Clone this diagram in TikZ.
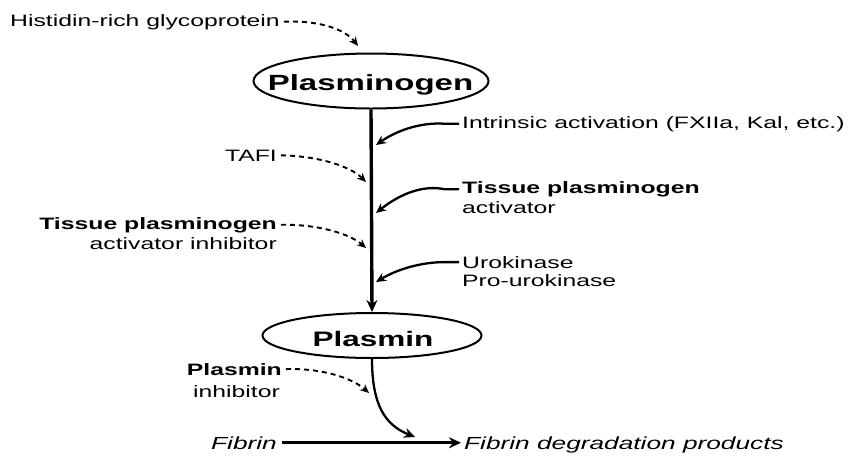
\documentclass[tikz,border=0pt]{standalone}
\usepackage{fontspec}
\setmainfont{Liberation Sans}[FakeStretch=1.5]
\usetikzlibrary{arrows.meta,shapes.geometric}
\begin{document}
\begin{tikzpicture}[x=1pt,y=-1pt,
  lbl/.style={inner sep=0pt, font=\fontsize{16.5}{20}\selectfont},
  blbl/.style={inner sep=0pt, font=\fontsize{16.5}{20}\selectfont\bfseries},
  ilbl/.style={inner sep=0pt, font=\fontsize{17.5}{20}\selectfont\itshape},
  oval/.style={ellipse, draw, line width=2pt, inner sep=0pt},
  big/.style={inner sep=0pt, anchor=base, font=\fontsize{22}{22}\selectfont\bfseries},
  mainarr/.style={line width=3.4pt, -{Stealth[length=12pt,width=11pt]}},
  solidarr/.style={line width=2.3pt, -{Stealth[length=10pt,width=9pt]}},
  dasharr/.style={line width=1.9pt, dash pattern=on 5pt off 4pt, -{Stealth[length=9pt,width=8pt]}},
]
\fill[white] (0,0) rectangle (851,456);
\path[use as bounding box] (0,0) rectangle (851,456);

% ovals
\node[oval, minimum width=235pt, minimum height=55pt] (plg) at (371,81) {};
\node[big] (plgt) at (370.5,90) {Plasminogen};
\node[oval, minimum width=219pt, minimum height=45pt] (pl) at (372,335.5) {};
\node[big, font=\fontsize{21}{21}\selectfont\bfseries] (plt) at (373,346) {Plasmin};

% labels
\node[lbl, anchor=base west] (hrg) at (10,26) {Histidin-rich glycoprotein};
\node[lbl, anchor=base west] (intr) at (462,128) {Intrinsic activation (FXIIa, Kal, etc.)};
\node[blbl, anchor=base west] (tpa1) at (462,193.5) {Tissue plasminogen};
\node[lbl, anchor=base west] (tpa2) at (462,213) {activator};
\node[lbl, anchor=base west] (uk1) at (462,268) {Urokinase};
\node[lbl, anchor=base west] (uk2) at (462,286) {Pro-urokinase};
\node[lbl, anchor=base east] (tafi) at (277,161) {TAFI};
\node[blbl, anchor=base east] (pai1) at (277,229) {Tissue plasminogen};
\node[lbl, anchor=base east] (pai2) at (277,249) {activator inhibitor};
\node[blbl, anchor=base east] (pi1) at (282,375) {Plasmin};
\node[lbl, anchor=base east] (pi2) at (280,397) {inhibitor};
\node[ilbl, anchor=base east] (fib) at (277,449) {Fibrin};
\node[ilbl, anchor=base west] (fdp) at (464,449) {Fibrin degradation products};

% targets
\coordinate (d0) at (358,46);
\coordinate (a1) at (376,145);
\coordinate (d1) at (366,182);
\coordinate (a2) at (376,213);
\coordinate (d2) at (366,248);
\coordinate (a3) at (376,282);
\coordinate (d3) at (369,393);
\coordinate (f1) at (415,437);

% main axis
\draw[mainarr] (plg.south) -- (pl.north);
\draw[mainarr] (fib.east) ++(5,0) -- ([xshift=-3pt]fib.east -| fdp.west);
\draw[line width=2.3pt, -{Stealth[length=11pt,width=10pt]}] (pl.south) .. controls (372,405) and (385,425) .. (f1);

% activators
\draw[solidarr] ([xshift=-3pt]intr.west) -- ++(-14,0) .. controls (420,122) and (396,131) .. (a1);
\draw[solidarr] ([xshift=-3pt]tpa1.west) -- ++(-14,0) .. controls (420,184) and (396,197) .. (a2);
\draw[solidarr] ([xshift=-3pt]uk1.west) -- ++(-14,0) .. controls (420,262) and (396,270) .. (a3);

% inhibitors
\draw[dasharr] ([xshift=4pt]hrg.east) .. controls (318,20) and (345,29) .. (d0);
\draw[dasharr] ([xshift=4pt]tafi.east) .. controls (318,156) and (350,166) .. (d1);
\draw[dasharr] ([xshift=4pt]pai1.east) .. controls (318,224) and (350,234) .. (d2);
\draw[dasharr] ([xshift=4pt]pi1.east) .. controls (322,368) and (352,378) .. (d3);
\end{tikzpicture}
\end{document}
